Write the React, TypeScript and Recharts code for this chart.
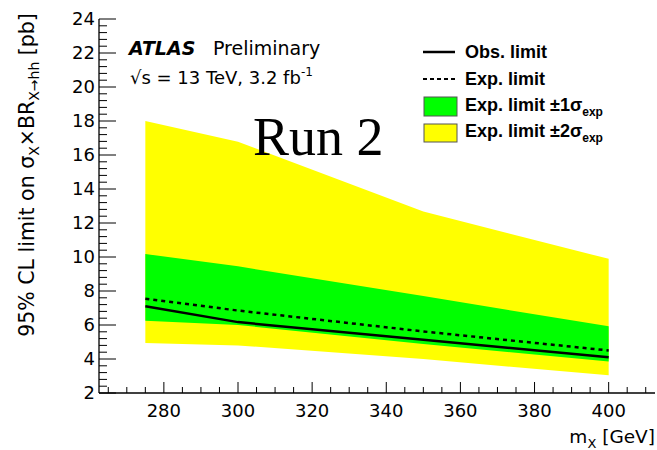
import { ComposedChart, Area, Line, XAxis, YAxis } from 'recharts';

// Resonance mass points [GeV]
const masses = [275, 300, 350, 400];
// 95% CL limits [pb]
const observed = [7.1, 6.17, 5.13, 4.1];
const expected = [7.54, 6.85, 5.62, 4.5];
const oneSigmaLow = [6.25, 6.0, 4.88, 3.85];
const oneSigmaHigh = [10.17, 9.45, 7.7, 5.92];
const twoSigmaLow = [4.94, 4.8, 4.0, 3.04];
const twoSigmaHigh = [18.0, 16.78, 12.67, 9.89];

const xLabels = [280, 300, 320, 340, 360, 380, 400];
const yLabels = [2, 4, 6, 8, 10, 12, 14, 16, 18, 20, 22, 24];

// minor ticks: every 5 GeV on x, every 0.4 pb on y
const xTicks: number[] = [];
for (let v = 265; v <= 410; v += 5) xTicks.push(v);
const yTicks: number[] = [];
for (let i = 0; i <= 55; i++) yTicks.push(Math.round((2 + i * 0.4) * 10) / 10);

const data = masses.map((m, i) => ({
  mass: m,
  obs: observed[i],
  exp: expected[i],
  band1: [oneSigmaLow[i], oneSigmaHigh[i]],
  band2: [twoSigmaLow[i], twoSigmaHigh[i]],
}));

const W = 657;
const H = 450;
const SANS = '"DejaVu Sans", sans-serif';
const HELV = '"Liberation Sans", Arial, sans-serif';

const isMajorX = (v: number) => xLabels.includes(v);
const isMajorY = (v: number) => yLabels.includes(v);

function BottomTick({ x, y, payload }: any) {
  const major = isMajorX(payload.value);
  return (
    <g>
      <line x1={x} x2={x} y1={y} y2={y - (major ? 11 : 6)} stroke="#000" />
      {major && (
        <text x={x} y={y + 24} textAnchor="middle" fontFamily={SANS} fontSize={18} fill="#000">
          {payload.value}
        </text>
      )}
    </g>
  );
}

function TopTick({ x, y, payload }: any) {
  const major = isMajorX(payload.value);
  return <line x1={x} x2={x} y1={y} y2={y + (major ? 11 : 6)} stroke="#000" />;
}

function LeftTick({ x, y, payload }: any) {
  const major = isMajorY(payload.value);
  return (
    <g>
      <line x1={x} x2={x + (major ? 17 : 8)} y1={y} y2={y} stroke="#000" />
      {major && (
        <text x={x - 4} y={y} dy="0.36em" textAnchor="end" fontFamily={SANS} fontSize={18} fill="#000">
          {payload.value}
        </text>
      )}
    </g>
  );
}

function RightTick({ x, y, payload }: any) {
  const major = isMajorY(payload.value);
  return <line x1={x} x2={x - (major ? 16 : 9)} y1={y} y2={y} stroke="#000" />;
}

function Annotations() {
  const legendX = 465;
  return (
    <svg
      width={W}
      height={H}
      style={{ position: 'absolute', left: 0, top: 0, pointerEvents: 'none' }}
    >
      {/* y axis title */}
      <text
        transform="translate(34,175) rotate(-90)"
        textAnchor="middle"
        fontFamily={SANS}
        fontSize={20.5}
        fill="#000"
      >
        95% CL limit on σ
        <tspan dy={5} fontSize={14}>X</tspan>
        <tspan dy={-5}>×BR</tspan>
        <tspan dy={5} fontSize={14}>X→hh</tspan>
        <tspan dy={-5}> [pb]</tspan>
      </text>

      {/* x axis title */}
      <text x={655} y={443} textAnchor="end" fontFamily={SANS} fontSize={18.5} fill="#000">
        m<tspan dy={5} fontSize={13}>X</tspan>
        <tspan dy={-5}> [GeV]</tspan>
      </text>

      <text x={129} y={55} fontFamily={SANS} fontSize={19} fill="#000">
        <tspan fontWeight="bold" fontStyle="italic">ATLAS</tspan>
        <tspan x={213}>Preliminary</tspan>
      </text>
      <text x={130} y={84} fontFamily={SANS} fontSize={18} fill="#000">
        √s = 13 TeV, 3.2 fb<tspan dy={-8} fontSize={12}>-1</tspan>
      </text>

      <text x={253} y={155} fontFamily='"Liberation Serif", serif' fontSize={54} fill="#000">
        Run 2
      </text>

      {/* legend */}
      <line x1={423} x2={455} y1={52} y2={52} stroke="#000" strokeWidth={2.5} />
      <line x1={423} x2={455} y1={79} y2={79} stroke="#000" strokeWidth={2} strokeDasharray="4 3" />
      <rect x={424} y={97} width={33} height={19} fill="#00ff00" stroke="#555" />
      <rect x={424} y={124} width={33} height={18} fill="#ffff00" stroke="#555" />
      <g fontFamily={HELV} fontWeight="bold" fontSize={18} fill="#000">
        <text x={legendX} y={58}>Obs. limit</text>
        <text x={legendX} y={84.5}>Exp. limit</text>
        <text x={legendX} y={110.5}>
          Exp. limit ±1σ<tspan dy={5} fontSize={12}>exp</tspan>
        </text>
        <text x={legendX} y={136.5}>
          Exp. limit ±2σ<tspan dy={5} fontSize={12}>exp</tspan>
        </text>
      </g>
    </svg>
  );
}

export default function App() {
  return (
    <div style={{ position: 'absolute', left: 0, top: 0, width: W, height: H, background: '#fff' }}>
      <ComposedChart
        width={W}
        height={H}
        data={data}
        margin={{ top: 19, right: 2, bottom: 0, left: 0 }}
      >
        <XAxis
          dataKey="mass"
          type="number"
          domain={[262.5, 412.5]}
          ticks={xTicks}
          interval={0}
          tickSize={0}
          tickMargin={0}
          tick={<BottomTick />}
          height={57}
          axisLine={{ stroke: '#000', strokeWidth: 1.3 }}
          allowDataOverflow
        />
        <XAxis
          xAxisId="top"
          orientation="top"
          type="number"
          domain={[262.5, 412.5]}
          ticks={xTicks}
          interval={0}
          tickSize={0}
          tickMargin={0}
          tick={<TopTick />}
          height={0}
          axisLine={{ stroke: '#000', strokeWidth: 1.3 }}
          allowDataOverflow
        />
        <YAxis
          type="number"
          domain={[2, 24]}
          ticks={yTicks}
          interval={0}
          tickSize={0}
          tickMargin={0}
          tick={<LeftTick />}
          width={99}
          axisLine={{ stroke: '#000', strokeWidth: 1.3 }}
          allowDataOverflow
        />
        <YAxis
          yAxisId="right"
          orientation="right"
          type="number"
          domain={[2, 24]}
          ticks={yTicks}
          interval={0}
          tickSize={0}
          tickMargin={0}
          tick={<RightTick />}
          width={0}
          axisLine={{ stroke: '#000', strokeWidth: 1.3 }}
          allowDataOverflow
        />
        <Area
          type="linear"
          dataKey="band2"
          stroke="none"
          fill="#ffff00"
          fillOpacity={1}
          isAnimationActive={false}
        />
        <Area
          type="linear"
          dataKey="band1"
          stroke="none"
          fill="#00ff00"
          fillOpacity={1}
          isAnimationActive={false}
        />
        <Line
          type="linear"
          dataKey="exp"
          stroke="#000"
          strokeWidth={2.5}
          strokeDasharray="4 4"
          dot={false}
          isAnimationActive={false}
        />
        <Line
          type="linear"
          dataKey="obs"
          stroke="#000"
          strokeWidth={2.5}
          dot={false}
          isAnimationActive={false}
        />
      </ComposedChart>
      <Annotations />
    </div>
  );
}
